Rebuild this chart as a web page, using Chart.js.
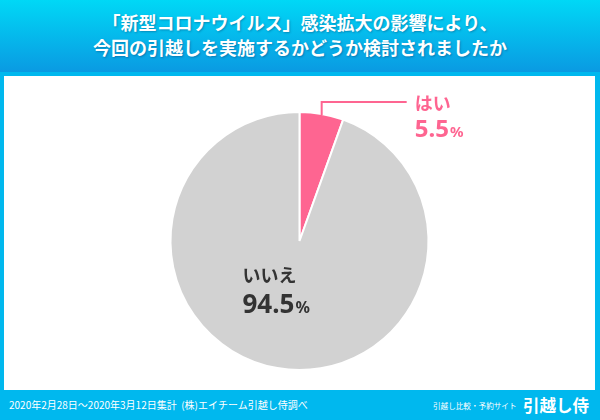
<!DOCTYPE html>
<html lang="ja">
<head>
<meta charset="utf-8">
<script src="https://cdn.jsdelivr.net/npm/chart.js@4"></script>
<style>
  html, body { margin: 0; padding: 0; }
  body {
    width: 600px; height: 420px; position: relative; overflow: hidden;
    background: #00b8ee;
    font-family: "Noto Sans CJK JP", "Noto Sans", sans-serif;
  }
  #header {
    position: absolute; left: 0; top: 0; width: 600px; height: 72px;
    background: linear-gradient(#00d8f6, #0a9ae2);
  }
  #title {
    position: absolute; left: 0; top: 10px; width: 600px;
    text-align: center; color: #fff; font-weight: bold;
    font-size: 18px; line-height: 25px;
    text-shadow: 1px 1px 2px rgba(0, 40, 90, 0.35);
  }
  #panel {
    position: absolute; left: 4px; top: 76px; width: 591px; height: 314px;
    background: #fff;
  }
  #footnote {
    position: absolute; left: 9px; top: 397px; color: #fff;
    font-size: 10px; line-height: 16px; white-space: nowrap;
  }
  #site {
    position: absolute; left: 433px; top: 400px; color: #fff;
    font-size: 7.6px; line-height: 12px; white-space: nowrap;
  }
  #logo {
    position: absolute; left: 523px; top: 394px; color: #fff;
    font-size: 16.5px; font-weight: bold; line-height: 22px; white-space: nowrap;
  }
</style>
</head>
<body>
<div id="header"></div>
<div id="title">「新型コロナウイルス」感染拡大の影響により、<br>今回の引越しを実施するかどうか検討されましたか</div>
<div id="panel"><canvas id="pieChart"></canvas></div>
<div id="footnote">2020年2月28日〜2020年3月12日集計&nbsp; (株)エイチーム引越し侍調べ</div>
<div id="site">引越し比較・予約サイト</div>
<div id="logo">引越し侍</div>

<script>
// --- DATA ---
const answers = ['はい', 'いいえ'];
const shares = [5.5, 94.5];
const sliceColors = ['#fe6591', '#d2d2d2'];
const labelColors = ['#fe6591', '#333333'];

// --- LABELS PLUGIN ---
// draws the answer name and percentage for each slice
const sliceLabels = {
    id: 'sliceLabels',
    afterDraw(chart) {
        const ctx = chart.ctx;
        const arcs = chart.getDatasetMeta(0).data;
        ctx.save();
        ctx.textBaseline = 'alphabetic';
        ctx.textAlign = 'left';

        arcs.forEach((arc, i) => {
            const p = arc.getProps(['x', 'y', 'startAngle', 'endAngle', 'outerRadius'], true);
            const mid = (p.startAngle + p.endAngle) / 2;
            const color = labelColors[i];
            let tx, ty, bigSize, nameSize;

            if (i === 0) {
                // small slice: leader line out to the right
                const sx = p.x + Math.cos(mid) * p.outerRadius;
                const sy = p.y + Math.sin(mid) * p.outerRadius;
                const elbowY = p.y - p.outerRadius - 10;
                ctx.strokeStyle = color;
                ctx.lineWidth = 2;
                ctx.beginPath();
                ctx.moveTo(sx, sy + 1);
                ctx.lineTo(sx, elbowY);
                ctx.lineTo(sx + 85, elbowY);
                ctx.stroke();
                tx = sx + 93;
                ty = elbowY + 8;
                nameSize = 18;
                bigSize = 24;
            } else {
                tx = p.x - 57;
                ty = p.y + 41;
                nameSize = 18;
                bigSize = 26;
            }

            ctx.fillStyle = color;
            ctx.font = 'bold ' + nameSize + 'px "Noto Sans CJK JP"';
            ctx.fillText(answers[i], tx, ty);

            const num = String(shares[i]);
            const numY = ty + (i === 0 ? 27 : 31);
            ctx.font = 'bold ' + bigSize + 'px "Noto Sans"';
            ctx.fillText(num, tx, numY);
            const w = ctx.measureText(num).width;
            ctx.font = 'bold ' + Math.round(bigSize * 0.62) + 'px "Noto Sans"';
            ctx.fillText('%', tx + w + 1, numY);
        });
        ctx.restore();
    }
};

// --- CHART ---
new Chart(document.getElementById('pieChart'), {
    type: 'pie',
    data: {
        labels: answers,
        datasets: [{
            data: shares,
            backgroundColor: sliceColors,
            borderColor: '#ffffff',
            borderWidth: 2
        }]
    },
    options: {
        responsive: true,
        maintainAspectRatio: false,
        animation: false,
        layout: { padding: { top: 35, bottom: 19 } },
        plugins: {
            legend: { display: false },
            tooltip: { enabled: false }
        }
    },
    plugins: [sliceLabels]
});
</script>
</body>
</html>
